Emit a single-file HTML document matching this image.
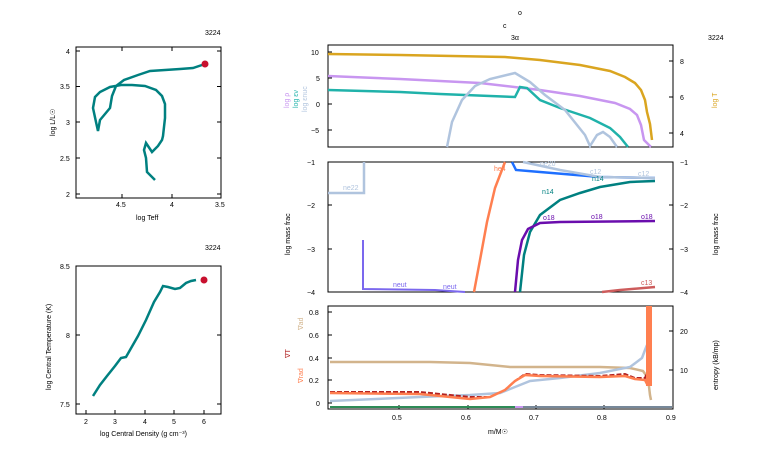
<!DOCTYPE html>
<html><head><meta charset="utf-8"><style>
body{margin:0;background:#fff;}
svg{display:block;font-family:"Liberation Sans",sans-serif;}
</style></head><body>
<svg width="766" height="460" xmlns="http://www.w3.org/2000/svg">
<rect width="766" height="460" fill="#fff"/>
<g font-size="7" fill="#000">
<!-- HR panel -->
<text x="205" y="35">3224</text>
<rect x="76" y="47" width="145" height="151" fill="none" stroke="#000"/>
<g stroke="#000">
<line x1="76" y1="51" x2="80" y2="51"/><line x1="76" y1="86.5" x2="80" y2="86.5"/><line x1="76" y1="122" x2="80" y2="122"/><line x1="76" y1="158" x2="80" y2="158"/><line x1="76" y1="194" x2="80" y2="194"/>
<line x1="221" y1="51" x2="217" y2="51"/><line x1="221" y1="86.5" x2="217" y2="86.5"/><line x1="221" y1="122" x2="217" y2="122"/><line x1="221" y1="158" x2="217" y2="158"/><line x1="221" y1="194" x2="217" y2="194"/>
<line x1="122" y1="198" x2="122" y2="194"/><line x1="172" y1="198" x2="172" y2="194"/><line x1="122" y1="47" x2="122" y2="51"/><line x1="172" y1="47" x2="172" y2="51"/>
</g>
<text x="66" y="54">4</text><text x="60" y="89">3.5</text><text x="66" y="125">3</text><text x="60" y="161">2.5</text><text x="66" y="197">2</text>
<text x="116" y="207">4.5</text><text x="170" y="207">4</text><text x="215" y="207">3.5</text>
<text x="136" y="220">log Teff</text>
<text transform="translate(55,136) rotate(-90)">log L/L☉</text>
<polyline fill="none" stroke="#008080" stroke-width="2.5" points="155,180 147,172 146,158 144,150 146,143 152,152 158,146 162,140 163,136 165,118 165,104 162,96 156,90 145,86 132,85 121,85 110,87 100,92 95,97 93,108 96,122 98,131 100,120 105,114 110,108 112,96 116,86 124,80 138,75 150,71 165,70 180,69 193,68 205,64"/>
<circle cx="205" cy="64" r="3.5" fill="#c8102e"/>

<!-- Central panel -->
<text x="205" y="250">3224</text>
<rect x="76" y="266" width="145" height="148" fill="none" stroke="#000"/>
<g stroke="#000">
<line x1="76" y1="266" x2="80" y2="266"/><line x1="76" y1="335" x2="80" y2="335"/><line x1="76" y1="404" x2="80" y2="404"/>
<line x1="221" y1="266" x2="217" y2="266"/><line x1="221" y1="335" x2="217" y2="335"/><line x1="221" y1="404" x2="217" y2="404"/>
<line x1="86" y1="414" x2="86" y2="410"/><line x1="115" y1="414" x2="115" y2="410"/><line x1="145" y1="414" x2="145" y2="410"/><line x1="174" y1="414" x2="174" y2="410"/><line x1="204" y1="414" x2="204" y2="410"/>
</g>
<text x="60" y="269">8.5</text><text x="66" y="338">8</text><text x="60" y="407">7.5</text>
<text x="84" y="424">2</text><text x="113" y="424">3</text><text x="143" y="424">4</text><text x="172" y="424">5</text><text x="202" y="424">6</text>
<text x="100" y="436">log Central Density (g cm⁻³)</text>
<text transform="translate(51,390) rotate(-90)">log Central Temperature (K)</text>
<polyline fill="none" stroke="#008080" stroke-width="2.5" points="93,396 100,385 107,376 115,366 121,358 126,357 130,350 138,336 146,320 154,302 160,292 163,286 168,287 175,289 180,288 186,283 191,281 196,280"/>
<circle cx="204" cy="280" r="3.5" fill="#c8102e"/>

<!-- title -->
<text x="518" y="15">o</text><text x="503" y="28">c</text><text x="511" y="40">3α</text>
<text x="708" y="40">3224</text>

<!-- Top right panel -->
<rect x="328" y="45" width="345" height="102" fill="none" stroke="#000"/>
<g stroke="#000">
<line x1="328" y1="52" x2="332" y2="52"/><line x1="328" y1="78" x2="332" y2="78"/><line x1="328" y1="104" x2="332" y2="104"/><line x1="328" y1="130" x2="332" y2="130"/>
<line x1="673" y1="61" x2="669" y2="61"/><line x1="673" y1="97" x2="669" y2="97"/><line x1="673" y1="133" x2="669" y2="133"/>
</g>
<text x="311" y="55">10</text><text x="316" y="81">5</text><text x="316" y="107">0</text><text x="311" y="133">−5</text>
<text x="680" y="64">8</text><text x="680" y="100">6</text><text x="680" y="136">4</text>
<text transform="translate(289,108) rotate(-90)" fill="#c896f0">log ρ</text>
<text transform="translate(298,108) rotate(-90)" fill="#20b2aa">log εν</text>
<text transform="translate(307,112) rotate(-90)" fill="#b0c4de">log εnuc</text>
<text transform="translate(717,108) rotate(-90)" fill="#daa520">log T</text>
<polyline fill="none" stroke="#daa520" stroke-width="2.5" points="328,54 400,55 505,57 540,60 580,65 610,71 625,77 635,83 641,90 645,100 647,112 650,124 652,140"/>
<polyline fill="none" stroke="#c896f0" stroke-width="2.5" points="328,76 400,79 480,83 540,90 580,96 615,103 630,109 637,115 641,125 644,140 651,147"/>
<polyline fill="none" stroke="#20b2aa" stroke-width="2.5" points="328,90 400,92 440,94 515,97 520,87 527,88 540,100 560,108 590,118 610,128 620,137 628,147"/>
<polyline fill="none" stroke="#b0c4de" stroke-width="2.5" points="447,147 452,122 462,100 475,86 490,79 515,73 530,82 545,95 565,110 585,135 590,146 597,135 603,132 610,137 617,147"/>

<!-- middle panel -->
<rect x="328" y="162" width="345" height="130" fill="none" stroke="#000"/>
<g stroke="#000">
<line x1="328" y1="205" x2="332" y2="205"/><line x1="328" y1="249" x2="332" y2="249"/>
<line x1="673" y1="205" x2="669" y2="205"/><line x1="673" y1="249" x2="669" y2="249"/>
</g>
<text x="307" y="165">−1</text><text x="307" y="208">−2</text><text x="307" y="252">−3</text><text x="307" y="295">−4</text>
<text x="680" y="165">−1</text><text x="680" y="208">−2</text><text x="680" y="252">−3</text><text x="680" y="295">−4</text>
<text transform="translate(290,255) rotate(-90)">log mass frac</text>
<text transform="translate(718,255) rotate(-90)">log mass frac</text>
<polyline fill="none" stroke="#b0c4de" stroke-width="2.5" points="328,193 364,193 364,162"/>
<text x="343" y="190" fill="#b0c4de">ne22</text>
<polyline fill="none" stroke="#7b68ee" stroke-width="2" points="363,240 363,289 435,290 465,292"/>
<text x="393" y="287" fill="#7b68ee">neut</text><text x="443" y="289" fill="#7b68ee">neut</text>
<polyline fill="none" stroke="#ff7f50" stroke-width="2.5" points="474,292 480,260 487,222 495,188 505,162"/>
<text x="494" y="171" fill="#ff7f50">he4</text>
<polyline fill="none" stroke="#1e6fff" stroke-width="2.5" points="512,162 516,170 540,172 600,177 655,178"/>
<polyline fill="none" stroke="#b0c4de" stroke-width="2.5" points="523,162 560,170 600,177 655,178"/>
<text x="540" y="166" fill="#b0c4de">ne20</text><text x="590" y="174" fill="#b0c4de">c12</text><text x="638" y="176" fill="#b0c4de">c12</text>
<polyline fill="none" stroke="#008080" stroke-width="2.5" points="520,292 524,255 530,232 540,215 560,200 580,193 600,187 630,182 655,181"/>
<text x="542" y="194" fill="#008080">n14</text><text x="592" y="181" fill="#008080">n14</text>
<polyline fill="none" stroke="#6a0dad" stroke-width="2.5" points="515,292 518,260 522,240 528,229 540,223 560,222 655,221"/>
<text x="543" y="220" fill="#6a0dad">o18</text><text x="591" y="219" fill="#6a0dad">o18</text><text x="641" y="219" fill="#6a0dad">o18</text>
<polyline fill="none" stroke="#cd5c5c" stroke-width="2.5" points="602,292 620,290 655,287"/>
<text x="641" y="285" fill="#cd5c5c">c13</text>

<!-- bottom panel -->
<rect x="328" y="306" width="345" height="103" fill="none" stroke="#000"/>
<g stroke="#000">
<line x1="328" y1="312" x2="332" y2="312"/><line x1="328" y1="335" x2="332" y2="335"/><line x1="328" y1="358" x2="332" y2="358"/><line x1="328" y1="380" x2="332" y2="380"/><line x1="328" y1="403" x2="332" y2="403"/>
<line x1="673" y1="331" x2="669" y2="331"/><line x1="673" y1="370" x2="669" y2="370"/>
<line x1="399" y1="409" x2="399" y2="405"/><line x1="468" y1="409" x2="468" y2="405"/><line x1="536" y1="409" x2="536" y2="405"/><line x1="604" y1="409" x2="604" y2="405"/>
</g>
<text x="309" y="315">0.8</text><text x="309" y="338">0.6</text><text x="309" y="361">0.4</text><text x="309" y="383">0.2</text><text x="316" y="406">0</text>
<text x="680" y="334">20</text><text x="680" y="373">10</text>
<text x="392" y="420">0.5</text><text x="461" y="420">0.6</text><text x="529" y="420">0.7</text><text x="597" y="420">0.8</text><text x="666" y="420">0.9</text>
<text x="488" y="434">m/M☉</text>
<text transform="translate(303,330) rotate(-90)" fill="#d2b48c">∇ad</text>
<text transform="translate(290,358) rotate(-90)" fill="#b22222">∇T</text>
<text transform="translate(303,383) rotate(-90)" fill="#ff7f50">∇rad</text>
<text transform="translate(718,390) rotate(-90)">entropy (kB/mp)</text>
<line x1="330" y1="407" x2="515" y2="407" stroke="#2e8b57" stroke-width="2"/>
<line x1="515" y1="407" x2="523" y2="407" stroke="#c896f0" stroke-width="2"/>
<line x1="523" y1="407" x2="672" y2="407" stroke="#778899" stroke-width="2"/>
<polyline fill="none" stroke="#d2b48c" stroke-width="2.5" points="330,362 430,362 470,363 510,367 600,367 630,368 643,371 648,378 650,395 651,400"/>
<polyline fill="none" stroke="#b0c4de" stroke-width="2.5" points="330,401 420,397 470,395 500,393 515,387 530,381 560,378 600,373 630,367 642,358 645,350 647,345"/>
<polyline fill="none" stroke="#b22222" stroke-width="2" stroke-dasharray="5,2" points="330,392 420,392 470,397 490,397 505,390 515,381 525,374 540,375 600,376 625,374 635,378 645,378 648,370 650,345"/>
<polyline fill="none" stroke="#ff7f50" stroke-width="2.5" points="330,393 420,394 470,399 490,397 505,390 515,381 525,375 540,376 600,377 625,376 635,379 645,380 647,384"/>
<rect x="646" y="306" width="6" height="80" fill="#ff7f50"/>
</g>
</svg>
</body></html>
